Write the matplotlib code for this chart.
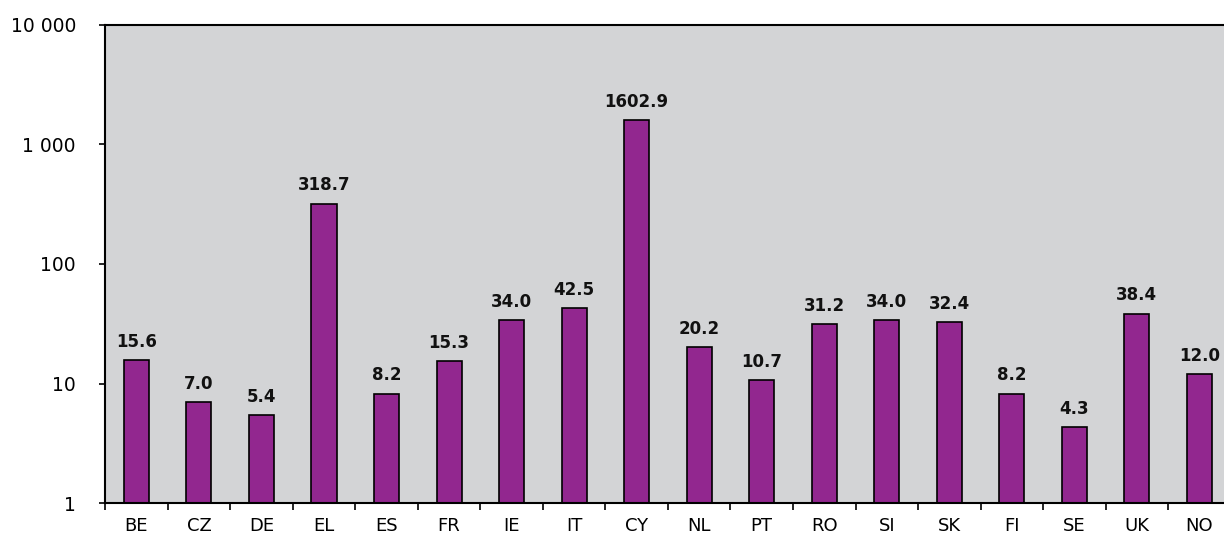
import numpy as np
import matplotlib
matplotlib.use('Agg')
import matplotlib.pyplot as plt
from matplotlib.ticker import FixedLocator, NullLocator

countries = ['BE', 'CZ', 'DE', 'EL', 'ES', 'FR', 'IE', 'IT', 'CY', 'NL',
             'PT', 'RO', 'SI', 'SK', 'FI', 'SE', 'UK', 'NO']
values = [15.6, 7.0, 5.4, 318.7, 8.2, 15.3, 34.0, 42.5, 1602.9, 20.2,
          10.7, 31.2, 34.0, 32.4, 8.2, 4.3, 38.4, 12.0]
yticks = [1, 10, 100, 1000, 10000]
ytick_labels = ['1', '10', '100', '1 000', '10 000']

fig = plt.figure(figsize=(12.24, 5.35), dpi=100)
ax = fig.add_axes([0.0859, 0.0598, 0.9196, 0.8935])
ax.set_facecolor('#d3d4d6')

x = np.arange(len(countries))
ax.bar(x, values, width=0.4, color='#92278f', edgecolor='black', linewidth=1.2, zorder=2)
ax.set_yscale('log')
ax.set_ylim(1, 10000)
ax.set_xlim(-0.5, len(countries) - 0.5)

# value labels above each bar
for xi, v in zip(x, values):
    ax.text(xi, v * 1.2, f'{v:.1f}', ha='center', va='bottom',
            fontsize=12, fontweight='bold', color='#111111')

ax.yaxis.set_major_locator(FixedLocator(yticks))
ax.yaxis.set_minor_locator(NullLocator())
ax.set_yticklabels(ytick_labels, fontsize=13.5)
ax.tick_params(axis='y', length=4, width=1.2, pad=17)

ax.set_xticks(x)
ax.set_xticklabels(countries, fontsize=13)
ax.tick_params(axis='x', length=0, pad=10)
ax.set_xticks(np.arange(len(countries) + 1) - 0.5, minor=True)
ax.tick_params(axis='x', which='minor', length=5, width=1.2)

for side in ['left', 'top', 'bottom']:
    ax.spines[side].set_linewidth(1.5)
ax.spines['right'].set_visible(False)

fig.savefig('out.png', dpi=100)
